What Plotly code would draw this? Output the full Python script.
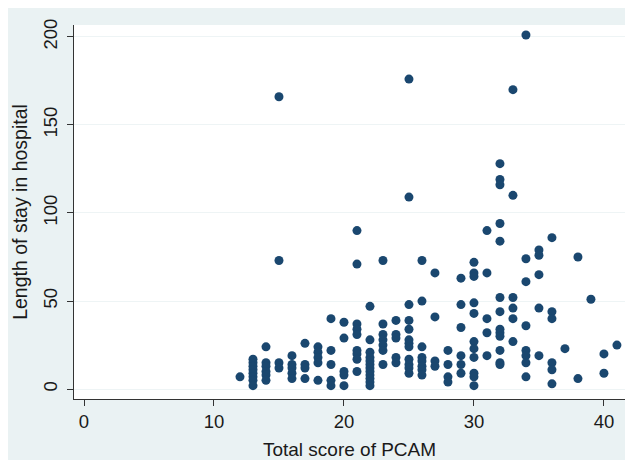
import plotly.graph_objects as go

# PCAM total score (x) and length of stay in days (y), one line per score value
pcam_score = [
    12,
    13, 13, 13, 13, 13, 13, 13, 13,
    14, 14, 14, 14, 14, 14,
    15, 15, 15, 15,
    16, 16, 16, 16, 16,
    17, 17, 17, 17,
    18, 18, 18, 18, 18,
    19, 19, 19, 19, 19,
    20, 20, 20, 20, 20,
    21, 21, 21, 21, 21, 21, 21, 21, 21,
    22, 22, 22, 22, 22, 22, 22, 22, 22, 22, 22, 22,
    23, 23, 23, 23, 23, 23, 23,
    24, 24, 24, 24, 24,
    25, 25, 25, 25, 25, 25, 25, 25, 25, 25, 25, 25,
    26, 26, 26, 26, 26, 26, 26, 26,
    27, 27, 27, 27,
    28, 28, 28, 28,
    29, 29, 29, 29, 29, 29,
    30, 30, 30, 30, 30, 30, 30, 30, 30, 30, 30,
    31, 31, 31, 31, 31,
    32, 32, 32, 32, 32, 32, 32, 32, 32, 32, 32, 32, 32,
    33, 33, 33, 33, 33, 33,
    34, 34, 34, 34, 34, 34, 34, 34,
    35, 35, 35, 35, 35,
    36, 36, 36, 36, 36, 36,
    37,
    38, 38,
    39,
    40, 40,
    41,
]
stay_days = [
    7,
    17, 15, 13, 11, 9, 7, 5, 2,
    24, 15, 13, 10, 8, 5,
    166, 73, 15, 12,
    19, 14, 12, 9, 6,
    26, 14, 12, 6,
    24, 21, 18, 15, 5,
    40, 22, 14, 5, 2,
    38, 29, 10, 8, 2,
    90, 71, 37, 34, 31, 22, 20, 17, 10,
    47, 28, 21, 18, 16, 14, 12, 10, 8, 6, 4, 2,
    73, 37, 31, 28, 25, 22, 14,
    39, 31, 29, 18, 15,
    176, 109, 48, 39, 34, 28, 26, 24, 17, 14, 12, 9,
    73, 50, 24, 18, 16, 13, 11, 8,
    66, 41, 16, 13,
    22, 14, 7, 4,
    63, 48, 35, 19, 14, 9,
    72, 66, 64, 49, 43, 27, 23, 18, 9, 7, 2,
    90, 66, 40, 32, 19,
    128, 119, 116, 94, 84, 52, 44, 34, 32, 30, 22, 15, 14,
    170, 110, 52, 46, 40, 27,
    201, 74, 61, 36, 22, 19, 15, 7,
    79, 76, 65, 46, 19,
    86, 44, 40, 15, 11, 3,
    23,
    75, 6,
    51,
    20, 9,
    25,
]

x_ticks = [0, 10, 20, 30, 40]
y_ticks = [0, 50, 100, 150, 200]

navy = "#1a476f"
stata_bg = "#eaf2f3"
font_family = "Liberation Sans, Arial, sans-serif"

fig = go.Figure()
fig.add_trace(
    go.Scatter(
        x=pcam_score,
        y=stay_days,
        mode="markers",
        marker=dict(size=9, color=navy, line=dict(width=0)),
        showlegend=False,
    )
)

fig.update_layout(
    width=633,
    height=460,
    margin=dict(l=66, r=16, t=11, b=69),
    paper_bgcolor=stata_bg,
    plot_bgcolor="white",
    font=dict(family=font_family, size=18.5, color="#1a1a1a"),
)

fig.update_xaxes(
    range=[-0.77, 41.62],
    tickvals=x_ticks,
    ticks="outside",
    ticklen=6,
    tickcolor="#333",
    showgrid=False,
    zeroline=False,
    showline=True,
    linecolor="#333",
    linewidth=1,
    title=dict(text="Total score of PCAM", standoff=11, font=dict(size=19)),
)
fig.update_yaxes(
    range=[-5.59, 206.7],
    tickvals=y_ticks,
    tickangle=-90,
    ticks="outside",
    ticklen=6,
    ticklabelstandoff=3,
    tickcolor="#333",
    showgrid=True,
    gridcolor="#eef4f5",
    zeroline=False,
    showline=True,
    linecolor="#333",
    linewidth=1,
    title=dict(text="Length of stay in hospital", standoff=6, font=dict(size=19.5)),
)

fig.write_html("out.html")
